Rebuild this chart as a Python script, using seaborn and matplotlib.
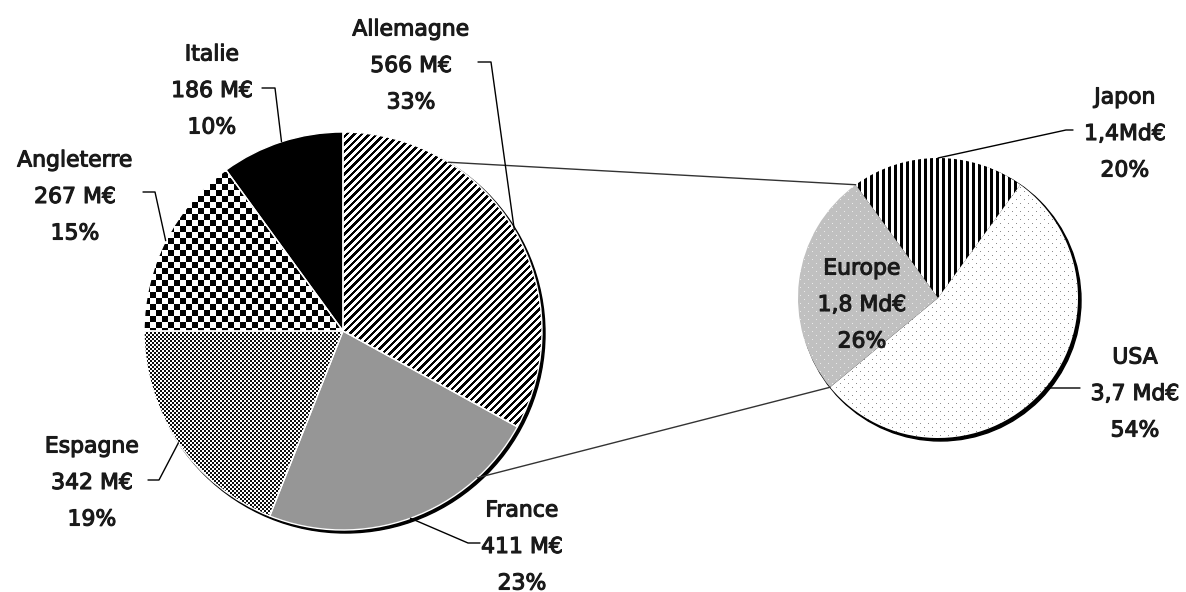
import numpy as np
import matplotlib
matplotlib.use('Agg')
import matplotlib.pyplot as plt
import matplotlib.patheffects as pe
from matplotlib.patches import Circle
import seaborn as sns

# Données : ventilation Europe (gauche) et monde (droite)
pays = ['Allemagne', 'France', 'Espagne', 'Angleterre', 'Italie']
pays_montants = ['566 M€', '411 M€', '342 M€', '267 M€', '186 M€']
pays_parts = [33, 23, 19, 15, 10]

zones = ['Japon', 'USA', 'Europe']
zones_montants = ['1,4Md€', '3,7 Md€', '1,8 Md€']
zones_parts = [20, 54, 26]

sns.set_theme(style='white')
plt.rcParams['font.family'] = ['DejaVu Sans']

W, H = 1186, 592
fig = plt.figure(figsize=(W / 100, H / 100), dpi=100)
ax = fig.add_axes([0, 0, 1, 1])

# géométrie en pixels (y vers le haut)
c_left, r_left = (343, H - 331), 199
c_right, r_right = (938, H - 298), 140
TXT = '#1a1a1a'
LINE_GAP = 36.5


def texture(kind, xx, yy):
    img = np.ones(xx.shape + (3,))
    grid8 = ((xx % 8) == 0) & ((yy % 8) == 0) | (((xx + 4) % 8) == 0) & (((yy + 4) % 8) == 0)
    if kind == 'diag':
        img[((xx - yy) % 7.5) < 3.3] = 0
    elif kind == 'solid_grey':
        img[:] = 0x96 / 255
    elif kind == 'dots':
        img[((xx // 2 + yy // 2) % 2) == 0] = 0.05
    elif kind == 'checker':
        img[((xx // 6 + yy // 6) % 2) == 0] = 0
    elif kind == 'black':
        img[:] = 0
    elif kind == 'vert':
        img[(xx % 6) < 3] = 0
    elif kind == 'sparse_grey':
        img[grid8] = 0.55
    elif kind == 'light_grey':
        img[:] = 0xc0 / 255
        img[grid8] = 0.92
    return img


def draw_pie(parts, center, radius, start, kinds, edge, lw):
    # ombre portée
    ax.add_patch(Circle((center[0] + 2.5, center[1] - 2.5), radius + 0.5,
                        color='black', zorder=1))
    wedges, _ = ax.pie(parts, center=center, radius=radius, startangle=start,
                       counterclock=False, colors=['none'] * len(parts),
                       wedgeprops=dict(edgecolor=edge, linewidth=lw))
    x0, x1 = int(center[0] - radius - 3), int(center[0] + radius + 3)
    y0, y1 = int(center[1] - radius - 3), int(center[1] + radius + 3)
    xx, yy = np.meshgrid(np.arange(x0, x1), np.arange(y0, y1))
    for w, k in zip(wedges, kinds):
        w.set_zorder(3)
        im = ax.imshow(texture(k, xx, yy), extent=(x0, x1, y0, y1), origin='lower',
                       interpolation='nearest', aspect='auto', zorder=2)
        im.set_clip_path(w)
    return wedges


def on_circle(center, radius, ang):
    a = np.deg2rad(ang)
    return center[0] + radius * np.cos(a), center[1] + radius * np.sin(a)


def label(tx, ty, lines):
    for i, t in enumerate(lines):
        ax.text(tx, H - ty - (i - 1) * LINE_GAP, t, ha='center', va='center_baseline',
                fontsize=15.8, color=TXT, zorder=5,
                path_effects=[pe.withStroke(linewidth=0.8, foreground=TXT)])


wl = draw_pie(pays_parts, c_left, r_left, 90,
              ['diag', 'solid_grey', 'dots', 'checker', 'black'], 'white', 1.0)
wr = draw_pie(zones_parts, c_right, r_right, 90 + zones_parts[0] * 1.8,
              ['vert', 'sparse_grey', 'light_grey'], 'none', 0)

# lignes de liaison vers la part Europe
eu = wr[2]
for a_left, a_right in [(58, eu.theta1), (-47.5, eu.theta2)]:
    p1 = on_circle(c_left, r_left, a_left)
    p2 = on_circle(c_right, r_right, a_right)
    ax.plot([p1[0], p2[0]], [p1[1], p2[1]], color='#333333', lw=1, zorder=4)

# étiquettes (centre de la ligne du milieu, départ et coude du trait de rappel)
pos_left = [(411, 64, (478, 62), (491, 62)),
            (522, 545, (480, 543), (468, 543)),
            (92, 481, (148, 480), (159, 480)),
            (75, 195, (143, 192), (155, 192)),
            (212, 89, (262, 88), (275, 88))]
for w, nom, mt, pc, (tx, ty, s, e) in zip(wl, pays, pays_montants, pays_parts, pos_left):
    label(tx, ty, [nom, mt, f'{pc}%'])
    p = on_circle(c_left, r_left, (w.theta1 + w.theta2) / 2)
    ax.plot([s[0], e[0], p[0]], [H - s[1], H - e[1], p[1]], color='black', lw=1, zorder=4)

# à droite : angle du point d'attache sur le camembert
pos_right = [(1125, 132, (1073, 130), (1066, 130), 90),
             (1135, 392, (1080, 388), (1062, 388), -40),
             (862, 303, None, None, None)]
for nom, mt, pc, (tx, ty, s, e, a) in zip(zones, zones_montants, zones_parts, pos_right):
    label(tx, ty, [nom, mt, f'{pc}%'])
    if s is not None:
        p = on_circle(c_right, r_right, a)
        ax.plot([s[0], e[0], p[0]], [H - s[1], H - e[1], p[1]], color='black', lw=1, zorder=4)

ax.set_aspect('auto')
ax.set_xlim(0, W)
ax.set_ylim(0, H)
ax.axis('off')
fig.savefig('out.png', dpi=100, facecolor='white')
